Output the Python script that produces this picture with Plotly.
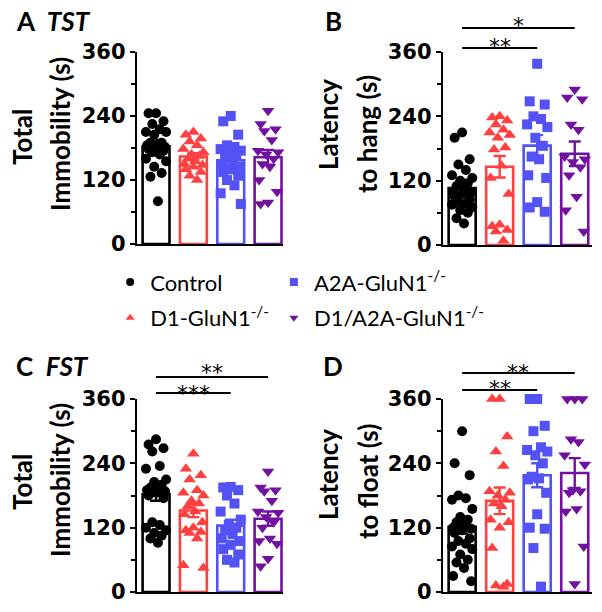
import numpy as np
import plotly.graph_objects as go

# ---------------- data ----------------
group_names = ["Control", "D1-GluN1<sup>-/-</sup>", "A2A-GluN1<sup>-/-</sup>", "D1/A2A-GluN1<sup>-/-</sup>"]

# A: TST total immobility (s)
tst_immob_control = [245, 245, 230, 225, 215, 210, 205, 210, 190, 188, 190, 185, 182, 180, 178, 175, 172, 168, 160, 155, 145, 133, 126, 80]
tst_immob_d1 = [210, 205, 198, 192, 185, 178, 172, 168, 165, 160, 155, 150, 148, 145, 140, 135, 128, 120]
tst_immob_a2a = [240, 230, 205, 185, 182, 178, 175, 170, 165, 160, 155, 150, 145, 140, 135, 128, 120, 110, 95, 75]
tst_immob_d1a2a = [250, 225, 215, 212, 195, 175, 172, 168, 160, 150, 145, 120, 98, 78, 75]

# B: TST latency to hang (s)
tst_latency_control = [210, 200, 160, 150, 140, 130, 125, 120, 115, 110, 105, 100, 98, 95, 90, 85, 80, 78, 75, 70, 65, 60, 50, 40]
tst_latency_d1 = [240, 238, 232, 225, 215, 210, 205, 200, 182, 178, 148, 125, 95, 38, 35, 28, 25, 8]
tst_latency_a2a = [338, 268, 262, 240, 235, 225, 220, 200, 185, 165, 160, 130, 125, 80, 70, 62]
tst_latency_d1a2a = [290, 275, 272, 225, 215, 165, 160, 155, 145, 130, 90, 65, 25]

# C: FST total immobility (s)
fst_immob_control = [285, 275, 268, 262, 235, 230, 210, 205, 200, 195, 192, 190, 188, 185, 180, 175, 130, 125, 120, 115, 110, 105, 100, 92]
fst_immob_d1 = [258, 230, 218, 210, 190, 185, 180, 170, 165, 160, 150, 145, 130, 120, 112, 115, 110, 100, 50, 45]
fst_immob_a2a = [196, 195, 190, 180, 165, 150, 135, 125, 120, 115, 108, 100, 95, 88, 80, 70, 60, 55]
fst_immob_d1a2a = [225, 195, 190, 188, 170, 150, 148, 140, 130, 120, 100, 95, 90, 62, 48]

# D: FST latency to float (s)
fst_latency_control = [300, 240, 218, 180, 175, 172, 155, 140, 135, 130, 125, 120, 118, 115, 110, 100, 95, 90, 85, 80, 70, 60, 55, 45, 30, 20]
fst_latency_d1 = [360, 360, 290, 262, 235, 188, 185, 180, 172, 165, 160, 135, 130, 120, 82, 15, 12, 10]
fst_latency_a2a = [360, 360, 310, 300, 270, 265, 262, 255, 240, 215, 212, 210, 185, 145, 120, 118, 82, 10]
fst_latency_d1a2a = [360, 360, 360, 285, 280, 255, 238, 190, 188, 185, 155, 150, 85, 15]

y_tick_values = [0, 120, 240, 360]
y_minor_values = [60, 180, 300]

# ---------------- style ----------------
COLORS = ["#000000", "#FF4040", "#5252F5", "#7210A0"]
SYMBOLS = ["circle", "triangle-up", "square", "triangle-down"]
SIZES = [10, 11, 10, 11]
JITTER = [0.0, -0.2, 0.2, -0.1, 0.1, -0.27, 0.27, -0.05, 0.15, -0.15, 0.05, -0.24, 0.24]
BOLD = "Lato"
TICKFONT = dict(family="DejaVu Sans", size=21, color="black", weight="bold")

panels = [
    dict(name="A", xa="x", ya="y", data=[tst_immob_control, tst_immob_d1, tst_immob_a2a, tst_immob_d1a2a],
         xdom=[137 / 602, 283 / 602], ydom=[(612 - 244) / 612, (612 - 52) / 612], xr=[-0.51, 3.40]),
    dict(name="B", xa="x2", ya="y2", data=[tst_latency_control, tst_latency_d1, tst_latency_a2a, tst_latency_d1a2a],
         xdom=[443 / 602, 592 / 602], ydom=[(612 - 245) / 612, (612 - 52) / 612], xr=[-0.51, 3.46]),
    dict(name="C", xa="x3", ya="y3", data=[fst_immob_control, fst_immob_d1, fst_immob_a2a, fst_immob_d1a2a],
         xdom=[137 / 602, 283 / 602], ydom=[(612 - 592) / 612, (612 - 399) / 612], xr=[-0.51, 3.40]),
    dict(name="D", xa="x4", ya="y4", data=[fst_latency_control, fst_latency_d1, fst_latency_a2a, fst_latency_d1a2a],
         xdom=[443 / 602, 592 / 602], ydom=[(612 - 592) / 612, (612 - 399) / 612], xr=[-0.51, 3.46]),
]

fig = go.Figure()

for p in panels:
    for gi, vals in enumerate(p["data"]):
        arr = np.array(vals, dtype=float)
        mean = arr.mean()
        sem = arr.std(ddof=1) / np.sqrt(len(arr))
        fig.add_trace(go.Bar(
            x=[gi], y=[mean], width=0.72, xaxis=p["xa"], yaxis=p["ya"],
            marker=dict(color="white", line=dict(color=COLORS[gi], width=2.6)),
            error_y=dict(type="data", array=[sem], visible=True, color=COLORS[gi], thickness=2.4, width=6),
            showlegend=False, hoverinfo="skip",
        ))
    for gi, vals in enumerate(p["data"]):
        order = sorted(vals, reverse=True)
        xs = [gi + JITTER[i % len(JITTER)] for i in range(len(order))]
        fig.add_trace(go.Scatter(
            x=xs, y=order, mode="markers", xaxis=p["xa"], yaxis=p["ya"],
            marker=dict(symbol=SYMBOLS[gi], size=SIZES[gi], color=COLORS[gi], line=dict(width=0)),
            cliponaxis=False, showlegend=False, hoverinfo="skip",
        ))

# legend-only entries
legend_assign = ["legend", "legend", "legend2", "legend2"]
for gi in range(4):
    fig.add_trace(go.Scatter(
        x=[None], y=[None], mode="markers", name=group_names[gi],
        marker=dict(symbol=SYMBOLS[gi], size=8, color=COLORS[gi]),
        legend=legend_assign[gi], legendgroup=str(gi), showlegend=True,
    ))

layout = dict(
    template="none",
    width=602, height=612, margin=dict(l=0, r=0, t=0, b=0, pad=0, autoexpand=False),
    paper_bgcolor="white", plot_bgcolor="white", barmode="overlay",
    font=dict(family="Lato", color="black"),
    showlegend=True,
    legend=dict(x=0.183, y=0.573, xanchor="left", yanchor="top", bgcolor="rgba(0,0,0,0)", borderwidth=0,
                font=dict(family="Lato", size=22, color="black"), tracegroupgap=4, itemsizing="trace"),
    legend2=dict(x=0.455, y=0.573, xanchor="left", yanchor="top", bgcolor="rgba(0,0,0,0)", borderwidth=0,
                 font=dict(family="Lato", size=22, color="black"), tracegroupgap=4, itemsizing="trace"),
)

for i, p in enumerate(panels):
    sx = "" if i == 0 else str(i + 1)
    layout["xaxis" + sx] = dict(domain=p["xdom"], range=p["xr"], anchor=p["ya"], showline=True, linewidth=2.2,
                                linecolor="black", showticklabels=False, ticks="", showgrid=False, zeroline=False,
                                automargin=False, fixedrange=True)
    layout["yaxis" + sx] = dict(domain=p["ydom"], range=[0, 360], anchor=p["xa"], showline=True, linewidth=2.2,
                                linecolor="black", tickvals=y_tick_values, ticks="outside", ticklen=5, tickwidth=2,
                                tickcolor="black", tickfont=TICKFONT, showgrid=False, zeroline=False,
                                automargin=False,
                                minor=dict(tickvals=y_minor_values, ticks="outside", ticklen=4, tickwidth=2,
                                           tickcolor="black", showgrid=False),
                                fixedrange=True)

fig.update_layout(**layout)

annotations = []
# panel letters
annotations.append(dict(text="<b>A  <i>TST</i></b>", x=14 / 602, y=1 - 21 / 612))
annotations.append(dict(text="<b>B</b>", x=323 / 602, y=1 - 21 / 612))
annotations.append(dict(text="<b>C  <i>FST</i></b>", x=14 / 602, y=1 - 366 / 612))
annotations.append(dict(text="<b>D</b>", x=321 / 602, y=1 - 366 / 612))
for a in annotations:
    a.update(xref="paper", yref="paper", xanchor="left", yanchor="middle", showarrow=False,
             font=dict(family=BOLD, size=26, color="black"))

# y-axis titles (two rotated lines each)
ytitles = [
    ("Total", 22, 137), ("Immobility (s)", 60, 134),
    ("Latency", 328, 125), ("to hang (s)", 367, 134),
    ("Total", 22, 482), ("Immobility (s)", 60, 480),
    ("Latency", 328, 475), ("to float (s)", 368, 482),
]
for txt, px, py in ytitles:
    annotations.append(dict(text="<b>%s</b>" % txt, x=px / 602, y=1 - py / 612, xref="paper", yref="paper",
                            xanchor="center", yanchor="middle", textangle=-90, showarrow=False,
                            font=dict(family=BOLD, size=26, color="black")))

# significance bars: (xaxis, yaxis, x0, x1, line y, label y, label) in domain fractions
sig = [
    ("x2", "y2", 0, 3, 1.124, 1.175, "*"),
    ("x2", "y2", 0, 2, 1.021, 1.067, "**"),
    ("x3", "y3", 0, 3, 1.114, 1.176, "**"),
    ("x3", "y3", 0, 2, 1.031, 1.067, "***"),
    ("x4", "y4", 0, 3, 1.135, 1.176, "**"),
    ("x4", "y4", 0, 2, 1.047, 1.090, "**"),
]
shapes = []
for xa, ya, x0, x1, yl, ys, lab in sig:
    shapes.append(dict(type="line", xref=xa, yref=ya + " domain", x0=x0, x1=x1, y0=yl, y1=yl,
                       line=dict(color="black", width=2)))
    annotations.append(dict(text=lab, xref=xa, yref=ya + " domain", x=(x0 + x1) / 2, y=ys,
                            xanchor="center", yanchor="middle", yshift=-7, showarrow=False,
                            font=dict(family="DejaVu Sans", size=22, color="black")))

fig.update_layout(annotations=annotations, shapes=shapes)
fig.write_html("out.html", config={"displayModeBar": False, "staticPlot": True},
               post_script="document.body.style.margin='0';document.body.style.overflow='hidden';")
